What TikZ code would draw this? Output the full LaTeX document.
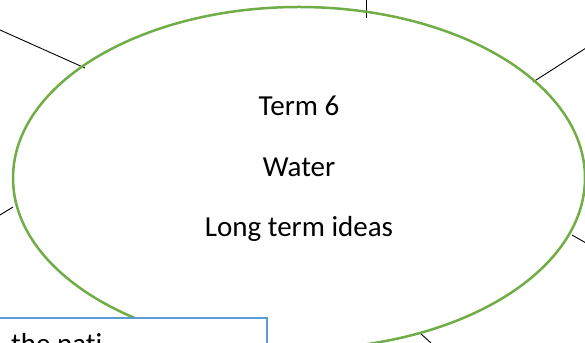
\documentclass[tikz,border=0pt]{standalone}
\usepackage{fontspec}
\setmainfont[Ligatures=NoCommon]{Carlito}
\usetikzlibrary{shapes.geometric}
\definecolor{ellgreen}{HTML}{70AD47}
\definecolor{boxblue}{HTML}{5B9BD5}
\begin{document}
\begin{tikzpicture}[x=1pt,y=1pt,
  ideatext/.style={font=\fontsize{29}{35}\selectfont, anchor=base, inner sep=0pt},
  spoke/.style={draw=black, line width=0.9pt},
  bubble/.style={draw=ellgreen, line width=2.5pt, ellipse, minimum width=572pt, minimum height=342pt, inner sep=0pt},
  notebox/.style={draw=boxblue, line width=2pt, fill=white}]
\useasboundingbox (0,0) rectangle (585,342);
\clip (0,0) rectangle (585,342);
% spokes
\coordinate (s1a) at (366,343); \coordinate (s1b) at (366,324);
\coordinate (s2a) at (0,312);   \coordinate (s2b) at (85,274);
\coordinate (s3a) at (586,294); \coordinate (s3b) at (533,260);
\coordinate (s4a) at (0,127);   \coordinate (s4b) at (13,135);
\coordinate (s5a) at (586,99);  \coordinate (s5b) at (572,107);
\coordinate (s6a) at (431,-1);  \coordinate (s6b) at (420,9);
\draw[spoke] (s1a) -- (s1b);
\draw[spoke] (s2a) -- (s2b);
\draw[spoke] (s3a) -- (s3b);
\draw[spoke] (s4a) -- (s4b);
\draw[spoke] (s5a) -- (s5b);
\draw[spoke] (s6a) -- (s6b);
% central ellipse
\node[bubble] (centre) at (299,164) {};
\node[ideatext] (t1) at (299,226) {Term 6};
\node[ideatext] (t2) at (299,165) {Water};
\node[ideatext] (t3) at (299,105) {Long term ideas};
% bottom box
\draw[notebox] (-10,24) rectangle (267,-40);
\node[ideatext, anchor=base west] (boxtext) at (11,-11) {the nati};
\end{tikzpicture}
\end{document}
